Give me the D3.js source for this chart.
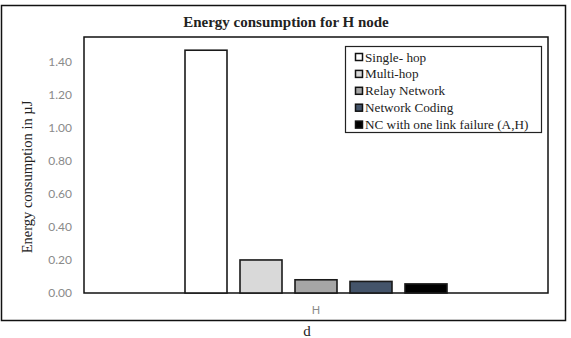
<!DOCTYPE html>
<html>
<head>
<meta charset="utf-8">
<script src="https://cdn.jsdelivr.net/npm/d3@7"></script>
<style>
  body { margin: 0; background: #fff; }
  svg { display: block; }
</style>
</head>
<body>
<svg id="chart"></svg>
<script>
// values
const categories = ['H'];
const series = ['Single- hop', 'Multi-hop', 'Relay Network', 'Network Coding', 'NC with one link failure (A,H)'];
const values = [1.47, 0.20, 0.08, 0.07, 0.055];
const colors = ['#ffffff', '#d9d9d9', '#a6a6a6', '#44546a', '#000000'];
const yTicks = [0, 0.2, 0.4, 0.6, 0.8, 1.0, 1.2, 1.4];

const width = 571, height = 338;
const plot = { left: 84, right: 548, top: 37, bottom: 293 };

const svg = d3.select('#chart')
    .attr('width', width)
    .attr('height', height);

// outer chart border
svg.append('rect')
    .attr('x', 1.5).attr('y', 5.5)
    .attr('width', 564).attr('height', 315)
    .attr('fill', '#fff')
    .attr('stroke', '#111').attr('stroke-width', 1.5);

svg.append('text')
    .attr('x', 286).attr('y', 27)
    .attr('text-anchor', 'middle')
    .attr('font-family', 'Liberation Serif, Times New Roman, serif')
    .attr('font-weight', 'bold')
    .attr('font-size', 15)
    .attr('fill', '#222')
    .text('Energy consumption for H node');

let y = d3.scaleLinear().domain([0, 1.55]).range([plot.bottom, plot.top]);
let x0 = d3.scaleBand().domain(categories).range([plot.left, plot.right]);
let half = 131;
let x1 = d3.scaleBand().domain(series)
    .range([x0.bandwidth() / 2 - half, x0.bandwidth() / 2 + half])
    .paddingInner(13 / 55);

// plot area border
svg.append('rect')
    .attr('x', plot.left).attr('y', plot.top)
    .attr('width', plot.right - plot.left).attr('height', plot.bottom - plot.top)
    .attr('fill', 'none')
    .attr('stroke', '#111').attr('stroke-width', 1.5);

let yAxis = d3.axisLeft(y).tickValues(yTicks).tickFormat(d3.format('.2f')).tickSize(0).tickPadding(12);
let gy = svg.append('g')
    .attr('transform', `translate(${plot.left}, 0)`)
    .call(yAxis);
gy.select('.domain').remove();
gy.selectAll('text')
    .attr('font-family', 'Lato, Open Sans, sans-serif')
    .attr('font-size', 12)
    .attr('fill', '#8a8a8a');

let xAxis = d3.axisBottom(x0).tickSize(0).tickPadding(13);
let gx = svg.append('g')
    .attr('transform', `translate(0, ${plot.bottom})`)
    .call(xAxis);
gx.select('.domain').remove();
gx.selectAll('text')
    .attr('font-family', 'Lato, Open Sans, sans-serif')
    .attr('font-size', 11)
    .attr('fill', '#8a8a8a');

// bars
let group = svg.selectAll('.group')
    .data(categories)
    .enter().append('g')
    .attr('class', 'group')
    .attr('transform', d => `translate(${x0(d)}, 0)`);

group.selectAll('rect')
    .data(series.map((s, i) => ({ s: s, v: values[i], c: colors[i] })))
    .enter().append('rect')
    .attr('x', d => x1(d.s))
    .attr('y', d => y(d.v))
    .attr('width', x1.bandwidth())
    .attr('height', d => y(0) - y(d.v))
    .attr('fill', d => d.c)
    .attr('stroke', '#1a1a1a')
    .attr('stroke-width', 1.6);

// y label
svg.append('text')
    .attr('transform', 'translate(32, 177) rotate(-90)')
    .attr('text-anchor', 'middle')
    .attr('font-family', 'Liberation Serif, Times New Roman, serif')
    .attr('font-size', 14.5)
    .attr('fill', '#222')
    .text('Energy consumption in \u00b5J');

// legend
let legend = svg.append('g');
legend.append('rect')
    .attr('x', 345.5).attr('y', 46.5)
    .attr('width', 196).attr('height', 86)
    .attr('fill', '#fff')
    .attr('stroke', '#222').attr('stroke-width', 1.2);

let item = legend.selectAll('.item')
    .data(series)
    .enter().append('g')
    .attr('class', 'item')
    .attr('transform', (d, i) => `translate(355, ${57 + i * 16.9})`);

item.append('rect')
    .attr('x', 0.5).attr('y', -3.5)
    .attr('width', 7).attr('height', 7)
    .attr('fill', (d, i) => colors[i])
    .attr('stroke', '#111').attr('stroke-width', 1.5);

item.append('text')
    .attr('x', 10).attr('y', 4.5)
    .attr('font-family', 'Liberation Serif, Times New Roman, serif')
    .attr('font-size', 13.2)
    .attr('fill', '#222')
    .text(d => d);

// subfigure caption
svg.append('text')
    .attr('x', 307).attr('y', 336)
    .attr('text-anchor', 'middle')
    .attr('font-family', 'Liberation Serif, Times New Roman, serif')
    .attr('font-size', 15)
    .attr('fill', '#222')
    .text('d');
</script>
</body>
</html>
